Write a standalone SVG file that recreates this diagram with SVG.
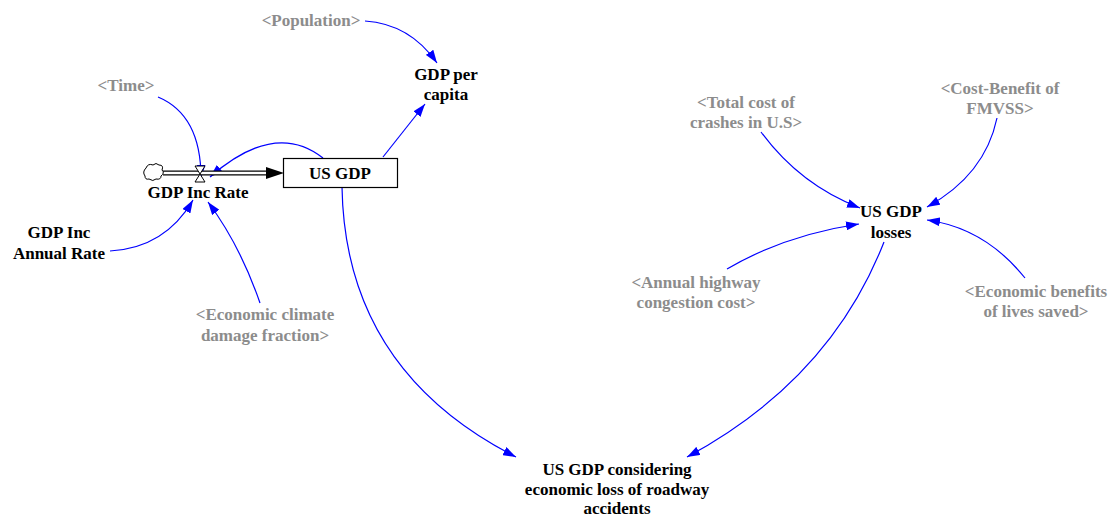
<svg xmlns="http://www.w3.org/2000/svg" width="1112" height="516" viewBox="0 0 1112 516" font-family="Liberation Serif, Times New Roman, serif">
<style>
text{font-family:"Liberation Serif","Times New Roman",serif;font-size:17px;font-weight:bold;text-anchor:middle}
.v{fill:#000}
.s{fill:#8c8c8c}
.c{fill:none;stroke:#0000ff;stroke-width:1.2;marker-end:url(#ah)}
</style>
<defs>
<marker id="ah" viewBox="0 0 13 9" refX="13" refY="4.5" markerWidth="13" markerHeight="9" markerUnits="userSpaceOnUse" orient="auto">
<path d="M0,0 L13,4.5 L0,9 Z" fill="#0000ff"/>
</marker>
</defs>
<rect width="1112" height="516" fill="#fff"/>

<g id="connectors">
<path class="c" d="M365,21 Q410,24 437,63"/>
<path class="c" d="M383,157 L425,104"/>
<path class="c" d="M158,97 Q201,115 201,178"/>
<path class="c" d="M323,158 Q275,120 210,177"/>
<path class="c" d="M110,251 Q165,248 193,200"/>
<path class="c" d="M260,303 Q240,245 208,202"/>
<path class="c" d="M342,187 Q345,370 516,457"/>
<path class="c" d="M761,132 Q800,185 860,208"/>
<path class="c" d="M997,118 Q985,175 927,207"/>
<path class="c" d="M727,269 Q785,235 859,224"/>
<path class="c" d="M1025,278 Q985,228 927,220"/>
<path class="c" d="M884,242 Q830,380 687,457"/>
</g>

<g id="flow">
<path d="M163,173 L268,173" stroke="#000" stroke-width="5" fill="none"/>
<path d="M163,173 L269,173" stroke="#fff" stroke-width="2.4" fill="none"/>
<path d="M266,167 L284,173 L266,179 Z" fill="#000"/>
</g>

<g id="cloud">
<path d="M146,168 q2,-5 7,-3 q3,-3 6,0 q5,0 3,5 q3,3 -1,6 q0,4 -5,3 q-3,3 -7,0 q-4,1 -4,-3 q-3,-4 1,-8 z" fill="#fff" stroke="#000" stroke-width="1"/>
</g>

<g id="gdp-inc-rate">
<path d="M195,166 L205,166 L195,182 L205,182 Z" fill="#fff" stroke="#000" stroke-width="1"/>
<text class="v" x="198" y="198">GDP Inc Rate</text>
</g>

<g id="us-gdp">
<rect x="283.5" y="158.5" width="114" height="29" fill="#fff" stroke="#000" stroke-width="1.2"/>
<text class="v" x="340" y="179">US GDP</text>
</g>

<g id="population"><text class="s" x="311" y="26">&lt;Population&gt;</text></g>
<g id="gdp-per-capita">
<text class="v" x="446" y="80">GDP per</text>
<text class="v" x="446" y="100">capita</text>
</g>
<g id="time"><text class="s" x="126" y="91">&lt;Time&gt;</text></g>
<g id="gdp-inc-annual-rate">
<text class="v" x="59" y="238">GDP Inc</text>
<text class="v" x="59" y="258.5">Annual Rate</text>
</g>
<g id="economic-climate">
<text class="s" x="265" y="320">&lt;Economic climate</text>
<text class="s" x="265" y="340.5">damage fraction&gt;</text>
</g>
<g id="total-cost">
<text class="s" x="746" y="108">&lt;Total cost of</text>
<text class="s" x="746" y="128">crashes in U.S&gt;</text>
</g>
<g id="cost-benefit">
<text class="s" x="1000" y="94">&lt;Cost-Benefit of</text>
<text class="s" x="1000" y="114">FMVSS&gt;</text>
</g>
<g id="us-gdp-losses">
<text class="v" x="891" y="217">US GDP</text>
<text class="v" x="891" y="237.5">losses</text>
</g>
<g id="annual-highway">
<text class="s" x="696" y="288">&lt;Annual highway</text>
<text class="s" x="696" y="308">congestion cost&gt;</text>
</g>
<g id="economic-benefits">
<text class="s" x="1036" y="297">&lt;Economic benefits</text>
<text class="s" x="1036" y="317">of lives saved&gt;</text>
</g>
<g id="us-gdp-considering">
<text class="v" x="617" y="475">US GDP considering</text>
<text class="v" x="617" y="495">economic loss of roadway</text>
<text class="v" x="617" y="514">accidents</text>
</g>
</svg>
